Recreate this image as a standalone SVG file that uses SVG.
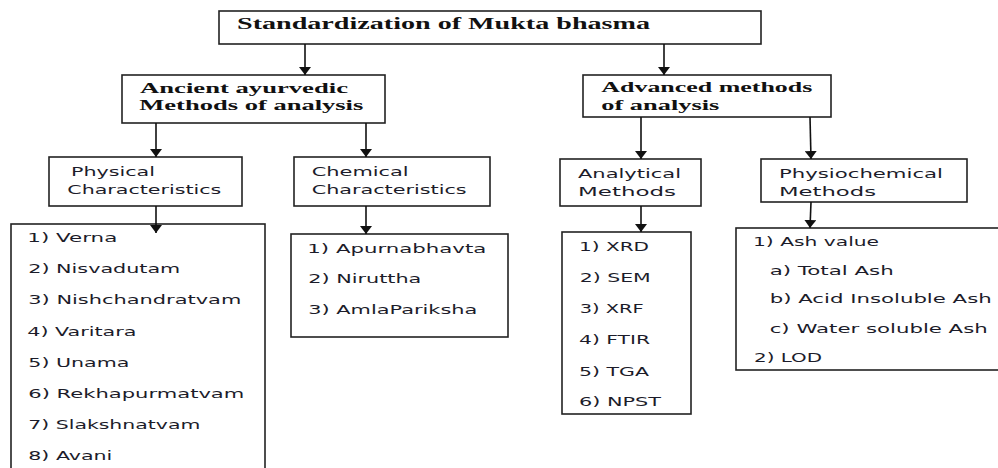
<svg xmlns="http://www.w3.org/2000/svg" width="998" height="468" viewBox="0 0 998 468">
<defs>
<marker id="ah" markerUnits="userSpaceOnUse" markerWidth="12" markerHeight="12" refX="8" refY="6" orient="auto">
<path d="M0,0 L8,6 L0,12 z" fill="#111"/>
</marker>
<style>
.box{fill:#fff;stroke:#222;stroke-width:1.6}
.ser{font-family:"Liberation Serif","Times New Roman",serif;font-weight:bold;fill:#111}
.t1{font-size:16px}
.t2{font-size:14px}
.san{font-family:"DejaVu Sans","Verdana",sans-serif;font-size:12.5px;fill:#1c1c2a}
.con line{stroke:#111;stroke-width:1.6;marker-end:url(#ah)}
</style>
</defs>
<rect width="998" height="468" fill="#fff"/>

<g id="root">
<rect class="box" x="219" y="11" width="542" height="33"/>
<text class="ser t1" x="237" y="29" textLength="413" lengthAdjust="spacingAndGlyphs">Standardization of Mukta bhasma</text>
</g>

<g id="ancient">
<rect class="box" x="122" y="75" width="263" height="48"/>
<text class="ser t2" x="140" y="92.7" textLength="208" lengthAdjust="spacingAndGlyphs">Ancient ayurvedic</text>
<text class="ser t2" x="139.3" y="110" textLength="224" lengthAdjust="spacingAndGlyphs">Methods of analysis</text>
</g>

<g id="advanced">
<rect class="box" x="583" y="75" width="248" height="42"/>
<text class="ser t2" x="601.3" y="92.3" textLength="211" lengthAdjust="spacingAndGlyphs">Advanced methods</text>
<text class="ser t2" x="601.3" y="110" textLength="118" lengthAdjust="spacingAndGlyphs">of analysis</text>
</g>

<g id="physical">
<rect class="box" x="49" y="157" width="193" height="49"/>
<text class="san" x="71" y="175.7" textLength="84" lengthAdjust="spacingAndGlyphs">Physical</text>
<text class="san" x="67.3" y="194" textLength="154" lengthAdjust="spacingAndGlyphs">Characteristics</text>
</g>

<g id="chemical">
<rect class="box" x="294" y="157" width="196" height="49"/>
<text class="san" x="311.7" y="175.7" textLength="97" lengthAdjust="spacingAndGlyphs">Chemical</text>
<text class="san" x="311.7" y="194" textLength="155" lengthAdjust="spacingAndGlyphs">Characteristics</text>
</g>

<g id="analytical">
<rect class="box" x="560" y="159" width="141" height="47"/>
<text class="san" x="578" y="178.3" textLength="103" lengthAdjust="spacingAndGlyphs">Analytical</text>
<text class="san" x="578" y="195.7" textLength="98" lengthAdjust="spacingAndGlyphs">Methods</text>
</g>

<g id="physiochemical">
<rect class="box" x="761" y="159" width="206" height="43"/>
<text class="san" x="779" y="178.3" textLength="164" lengthAdjust="spacingAndGlyphs">Physiochemical</text>
<text class="san" x="779" y="195.7" textLength="97" lengthAdjust="spacingAndGlyphs">Methods</text>
</g>

<g id="physical-list">
<rect class="box" x="11" y="224" width="254" height="260"/>
<text class="san" x="27.3" y="242.3" textLength="90" lengthAdjust="spacingAndGlyphs">1) Verna</text>
<text class="san" x="28.3" y="273.3" textLength="152" lengthAdjust="spacingAndGlyphs">2) Nisvadutam</text>
<text class="san" x="28.3" y="304.3" textLength="213" lengthAdjust="spacingAndGlyphs">3) Nishchandratvam</text>
<text class="san" x="27.3" y="336" textLength="109" lengthAdjust="spacingAndGlyphs">4) Varitara</text>
<text class="san" x="28.3" y="366.7" textLength="101" lengthAdjust="spacingAndGlyphs">5) Unama</text>
<text class="san" x="28.3" y="398.3" textLength="216" lengthAdjust="spacingAndGlyphs">6) Rekhapurmatvam</text>
<text class="san" x="28.3" y="429.3" textLength="172" lengthAdjust="spacingAndGlyphs">7) Slakshnatvam</text>
<text class="san" x="28.3" y="460" textLength="84" lengthAdjust="spacingAndGlyphs">8) Avani</text>
</g>

<g id="chemical-list">
<rect class="box" x="291" y="234" width="217" height="103"/>
<text class="san" x="307.3" y="252.7" textLength="179" lengthAdjust="spacingAndGlyphs">1) Apurnabhavta</text>
<text class="san" x="308.3" y="283.3" textLength="113" lengthAdjust="spacingAndGlyphs">2) Niruttha</text>
<text class="san" x="308.3" y="314.3" textLength="169" lengthAdjust="spacingAndGlyphs">3) AmlaPariksha</text>
</g>

<g id="analytical-list">
<rect class="box" x="562" y="232" width="129" height="182"/>
<text class="san" x="579" y="251" textLength="70" lengthAdjust="spacingAndGlyphs">1) XRD</text>
<text class="san" x="579.7" y="281.7" textLength="71" lengthAdjust="spacingAndGlyphs">2) SEM</text>
<text class="san" x="579.7" y="313.3" textLength="64" lengthAdjust="spacingAndGlyphs">3) XRF</text>
<text class="san" x="579" y="344" textLength="71" lengthAdjust="spacingAndGlyphs">4) FTIR</text>
<text class="san" x="579" y="375.7" textLength="70" lengthAdjust="spacingAndGlyphs">5) TGA</text>
<text class="san" x="579" y="406" textLength="82" lengthAdjust="spacingAndGlyphs">6) NPST</text>
</g>

<g id="physiochemical-list">
<rect class="box" x="736" y="228" width="280" height="142"/>
<text class="san" x="753" y="246" textLength="126" lengthAdjust="spacingAndGlyphs">1) Ash value</text>
<text class="san" x="769.7" y="275" textLength="124" lengthAdjust="spacingAndGlyphs">a) Total Ash</text>
<text class="san" x="769.7" y="303.3" textLength="222" lengthAdjust="spacingAndGlyphs">b) Acid Insoluble Ash</text>
<text class="san" x="769.7" y="332.7" textLength="218" lengthAdjust="spacingAndGlyphs">c) Water soluble Ash</text>
<text class="san" x="754" y="361.7" textLength="68" lengthAdjust="spacingAndGlyphs">2) LOD</text>
</g>

<g id="connectors" class="con">
<line x1="305" y1="44" x2="305" y2="75"/>
<line x1="664" y1="44" x2="664" y2="75"/>
<line x1="156" y1="123" x2="156" y2="157"/>
<line x1="366" y1="123" x2="366" y2="157"/>
<line x1="641" y1="117" x2="641" y2="159"/>
<line x1="810" y1="117" x2="811" y2="159"/>
<line x1="156" y1="206" x2="156" y2="233"/>
<line x1="366" y1="206" x2="366" y2="234"/>
<line x1="641" y1="206" x2="641" y2="232"/>
<line x1="811" y1="202" x2="810" y2="228"/>
</g>
</svg>
